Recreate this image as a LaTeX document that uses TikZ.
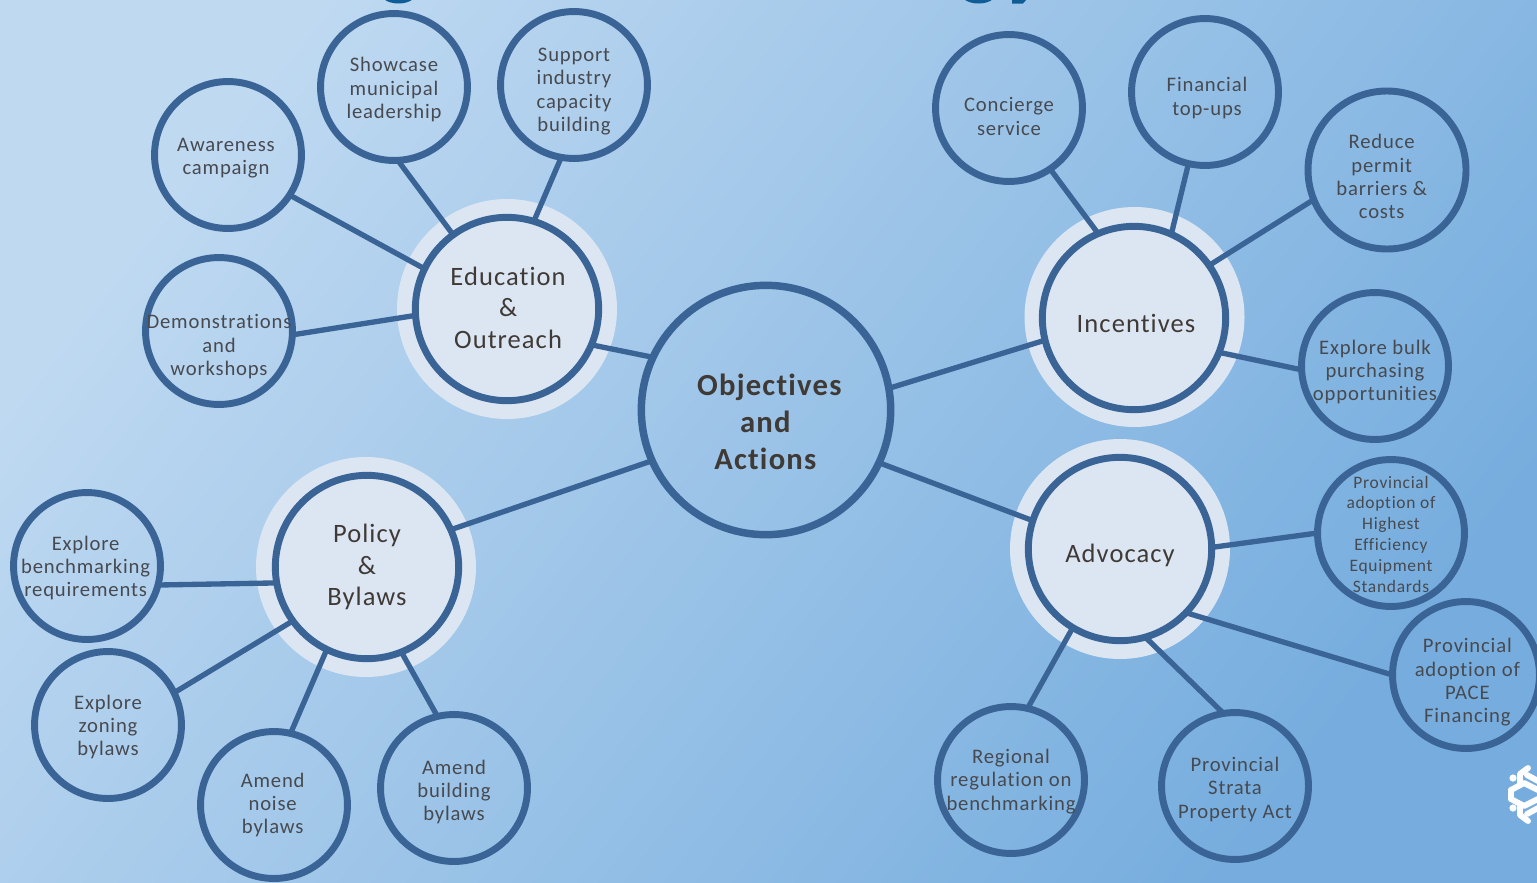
\documentclass[tikz,border=0pt]{standalone}
\usepackage{fontspec}
\setmainfont[LetterSpace=4,Ligatures=NoCommon]{Carlito}
\definecolor{ringblue}{HTML}{3A6496}
\definecolor{haloblue}{HTML}{DCE6F2}
\definecolor{bgtop}{HTML}{BFD9F1}
\definecolor{bgbottom}{HTML}{76ADDE}
\definecolor{leaftext}{HTML}{474A50}
\definecolor{hubtext}{HTML}{403A36}
\definecolor{titleblue}{HTML}{0F5C96}

\begin{document}
\begin{tikzpicture}[
  x=0.75pt, y=-0.75pt,
  leaf/.style={circle, draw=ringblue, line width=5.2pt, minimum size=110.2pt, inner sep=0pt, outer sep=0pt},
  hub/.style={circle, draw=ringblue, fill=haloblue, line width=5.2pt, minimum size=137.5pt, inner sep=0pt, outer sep=0pt},
  halo/.style={circle, fill=haloblue, minimum size=165pt, inner sep=0pt, outer sep=0pt},
  leaflabel/.style={align=center, text=leaftext, font=\fontsize{15.5}{17.6}\selectfont, inner sep=0pt},
  hublabel/.style={align=center, text=hubtext, font=\fontsize{19.9}{23.8}\selectfont, inner sep=0pt},
  toplabel/.style={align=center, text=hubtext, font=\fontsize{23}{27.7}\selectfont\bfseries, inner sep=0pt},
  link/.style={draw=ringblue, line width=4pt}
]
\useasboundingbox (0,0) rectangle (1537,882);
\shade[shading=axis, bottom color=bgbottom, top color=bgtop, shading angle=52] (0,0) rectangle (1537,882);

% cut-off title letters
\fill[titleblue] (384,-1) .. controls (390,5) and (407,5) .. (413,-1) -- cycle;
\fill[titleblue] (964,-1) .. controls (970,5) and (987,5) .. (993,-1) -- cycle;
\fill[titleblue] (1012,-1) -- (1027,-1) -- (1023,3.5) -- (1012,3.5) -- cycle;

% snowflake at the edge
\begin{scope}[draw=white, line width=4.4pt, line cap=round, line join=round]
\draw (1511,790) -- (1524,783) -- (1538,790);
\draw (1511,799) -- (1524,806) -- (1538,799);
\draw (1511,790) -- (1511,799);
\draw (1520,785) -- (1520,774) -- (1528,768);
\draw (1520,804) -- (1520,815) -- (1528,821);
\draw (1527,775) -- (1538,781);
\draw (1527,814) -- (1538,808);
\fill[white] (1513,778) circle[radius=3.6] (1513,808) circle[radius=3.6];
\end{scope}

% halos
\node[halo] (eduhalo) at (507,309) {};
\node[halo] (inchalo) at (1134.5,317) {};
\node[halo] (advhalo) at (1120,549) {};
\node[halo] (polhalo) at (366,567) {};

% centre
\node[circle, draw=ringblue, line width=5.6pt, minimum size=187pt, inner sep=0pt, outer sep=0pt,
  label={[toplabel, xshift=-0.5pt, yshift=-9pt]center:{\hspace*{6pt}Objectives\\and\\Actions}}] (objectives) at (766,410) {};

% hubs
\node[hub, label={[hublabel, xshift=0.8pt, yshift=1pt]center:{Education\\\&\\Outreach}}] (education) at (507,309) {};
\node[hub, label={[hublabel, xshift=1.5pt, yshift=-4pt]center:{Incentives}}] (incentives) at (1134,318) {};
\node[hub, label={[hublabel, yshift=-4.5pt]center:{Advocacy}}] (advocacy) at (1120,549) {};
\node[hub, label={[hublabel]center:{Policy\\\&\\Bylaws}}] (policy) at (367,567) {};

% education leaves
\node[leaf, label={[leaflabel, xshift=-1.5pt, yshift=-2.5pt]center:{Awareness\\campaign}}] (awareness) at (228,155) {};
\node[leaf, label={[leaflabel, yshift=-2pt]center:{Showcase\\municipal\\leadership}}] (showcase) at (394,87) {};
\node[leaf, label={[leaflabel, yshift=-5pt]center:{Support\\industry\\capacity\\building}}] (support) at (574,85) {};
\node[leaf, label={[leaflabel, yshift=-12pt]center:{Demonstrations\\and\\workshops}}] (demos) at (219,331) {};

% incentive leaves
\node[leaf, label={[leaflabel, yshift=-6.5pt]center:{Concierge\\service}}] (concierge) at (1009,108) {};
\node[leaf, label={[leaflabel, xshift=1.5pt, yshift=-4.5pt]center:{Financial\\top-ups}}] (financial) at (1205,92) {};
\node[leaf, minimum size=118.5pt, label={[leaflabel, xshift=-4pt, yshift=-5pt]center:{Reduce\\permit\\barriers \&\\costs}}] (permit) at (1387,170) {};
\node[leaf, label={[leaflabel, yshift=-4.5pt]center:{Explore bulk\\purchasing\\opportunities}}] (bulk) at (1375,366) {};

% advocacy leaves
\node[leaf, label={[leaflabel, font=\fontsize{13.1}{15.7}\selectfont, yshift=-1pt]center:{Provincial\\adoption of\\Highest\\Efficiency\\Equipment\\Standards}}] (efficiency) at (1391,533) {};
\node[leaf, label={[leaflabel, xshift=1pt, yshift=-5.5pt]center:{Provincial\\adoption of\\PACE\\Financing}}] (pace) at (1466,675) {};
\node[leaf, label={[leaflabel, yshift=-2.5pt]center:{Provincial\\Strata\\Property Act}}] (strata) at (1235,786) {};
\node[leaf, label={[leaflabel, yshift=-1pt]center:{Regional\\regulation on\\benchmarking}}] (regional) at (1011,780) {};

% policy leaves
\node[leaf, label={[leaflabel, xshift=-1pt, yshift=-1.5pt]center:{Explore\\benchmarking\\requirements}}] (benchmarking) at (87,566) {};
\node[leaf, label={[leaflabel, yshift=-1.5pt]center:{Explore\\zoning\\bylaws}}] (zoning) at (108,725) {};
\node[leaf, label={[leaflabel, xshift=-1pt]center:{Amend\\noise\\bylaws}}] (noise) at (274,805) {};
\node[leaf, label={[leaflabel, yshift=-3pt]center:{Amend\\building\\bylaws}}] (building) at (454,788) {};

% links from the centre
\draw[link] (education.-23) -- (objectives.155.4);
\draw[link] (objectives.10.7) -- (incentives.194.8);
\draw[link] (objectives.-25.4) -- (advocacy.162.7);
\draw[link] (objectives.204.1) -- (policy.24.7);

% links to leaves
\draw[link] (education.154.5) -- (awareness.-33.3);
\draw[link] (education.126.5) -- (showcase.-87);
\draw[link] (education.73) -- (support.-100.6);
\draw[link] (education.184.3) -- (demos.-3.8);
\draw[link] (incentives.113) -- (concierge.-56);
\draw[link] (incentives.66.9) -- (financial.-103.5);
\draw[link] (incentives.35.2) -- (permit.202.5);
\draw[link] (incentives.-22.8) -- (bulk.183);
\draw[link] (advocacy.1.2) -- (efficiency.180.8);
\draw[link] (advocacy.-44.6) -- (pace.180);
\draw[link] (advocacy.-74.2) -- (strata.99.2);
\draw[link] (advocacy.239.7) -- (regional.77.8);
\draw[link] (policy.190.5) -- (benchmarking.-15.3);
\draw[link] (policy.216.5) -- (zoning.26.2);
\draw[link] (policy.244.8) -- (noise.77);
\draw[link] (policy.-68.3) -- (building.103.7);
\end{tikzpicture}
\end{document}
